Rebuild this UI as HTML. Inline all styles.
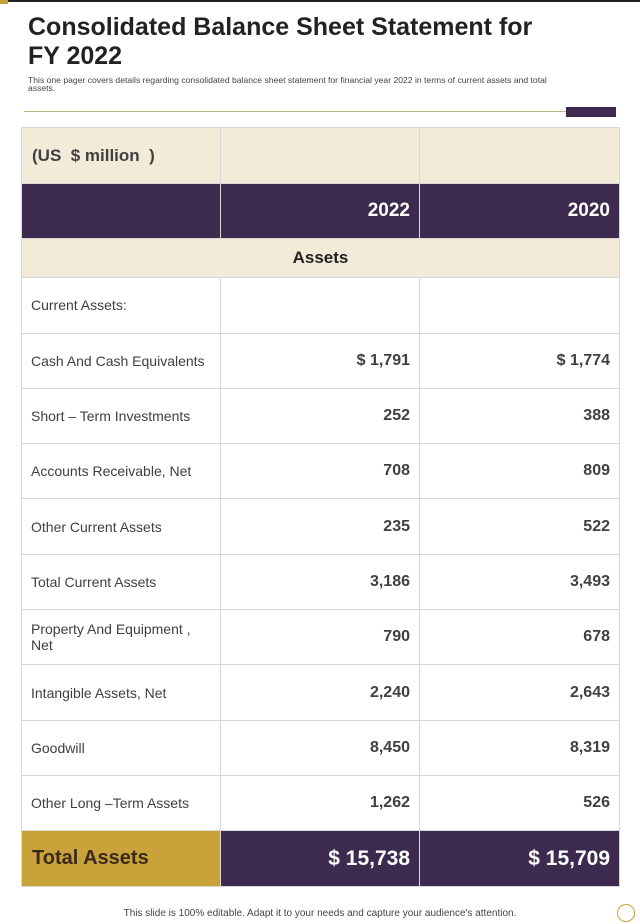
<!DOCTYPE html>
<html><head><meta charset="utf-8"><style>
body{margin:0;width:640px;height:924px;background:#fff;position:relative;overflow:hidden;font-family:"Liberation Sans",sans-serif}
.abs{position:absolute}
table{position:absolute;left:21px;top:127px;border-collapse:collapse;width:598px;table-layout:fixed}
td{border:1px solid #d8d8d8;padding:0 9px;font-size:14px;color:#404040;height:55.3px;box-sizing:border-box}
td.n{text-align:right;font-weight:bold;font-size:16px;color:#404040}
</style></head><body>
<div class="abs" style="left:0;top:0;width:640px;height:2px;background:#222"></div>
<div class="abs" style="left:0;top:0;width:8px;height:4px;background:#c9a23a"></div>
<div class="abs" style="left:28px;top:13px;width:600px;font-size:25px;font-weight:bold;line-height:29px;color:#222">Consolidated Balance Sheet Statement for<br>FY 2022</div>
<div class="abs" style="left:28px;top:76px;width:600px;font-size:8.6px;line-height:8px;color:#444">This one pager covers details regarding consolidated balance sheet statement for financial year 2022 in terms of current assets and total<br>assets.</div>
<div class="abs" style="left:24px;top:111px;width:542px;height:1px;background:#b9b58a"></div>
<div class="abs" style="left:566px;top:107px;width:50px;height:10px;background:#3d2b4f"></div>
<table>
<colgroup><col style="width:199px"><col style="width:199px"><col style="width:200px"></colgroup>
<tr style="background:#f3ebd9"><td style="height:56px;font-size:17px;font-weight:bold;padding-left:10px">(US &nbsp;$ million &nbsp;)</td><td></td><td></td></tr>
<tr style="background:#3d2b4f"><td></td><td class="n" style="color:#fff;font-size:19px">2022</td><td class="n" style="color:#fff;font-size:19px">2020</td></tr>
<tr style="background:#f3ebd9"><td colspan="3" style="height:39px;text-align:center;font-weight:bold;font-size:17px;color:#222">Assets</td></tr>
<tr><td>Current Assets:</td><td></td><td></td></tr>
<tr><td>Cash And Cash Equivalents</td><td class="n">$ 1,791</td><td class="n">$ 1,774</td></tr>
<tr><td>Short – Term Investments</td><td class="n">252</td><td class="n">388</td></tr>
<tr><td>Accounts Receivable, Net</td><td class="n">708</td><td class="n">809</td></tr>
<tr><td>Other Current Assets</td><td class="n">235</td><td class="n">522</td></tr>
<tr><td>Total Current Assets</td><td class="n">3,186</td><td class="n">3,493</td></tr>
<tr><td>Property And Equipment ,<br>Net</td><td class="n">790</td><td class="n">678</td></tr>
<tr><td>Intangible Assets, Net</td><td class="n">2,240</td><td class="n">2,643</td></tr>
<tr><td>Goodwill</td><td class="n">8,450</td><td class="n">8,319</td></tr>
<tr><td>Other Long –Term Assets</td><td class="n">1,262</td><td class="n">526</td></tr>
<tr><td style="height:56px;background:#c9a23a;font-size:20px;font-weight:bold;color:#3a2a1a;padding-left:10px">Total Assets</td><td class="n" style="background:#3d2b4f;color:#fff;font-size:21px">$ 15,738</td><td class="n" style="background:#3d2b4f;color:#fff;font-size:21px">$ 15,709</td></tr>
</table>
<div class="abs" style="left:0;width:640px;top:908px;text-align:center;font-size:10px;color:#444">This slide is 100% editable. Adapt it to your needs and capture your audience's attention.</div>
<div class="abs" style="left:617px;top:904px;width:16px;height:16px;border:1.5px solid #c9a23a;border-radius:50%"></div>
</body></html>
